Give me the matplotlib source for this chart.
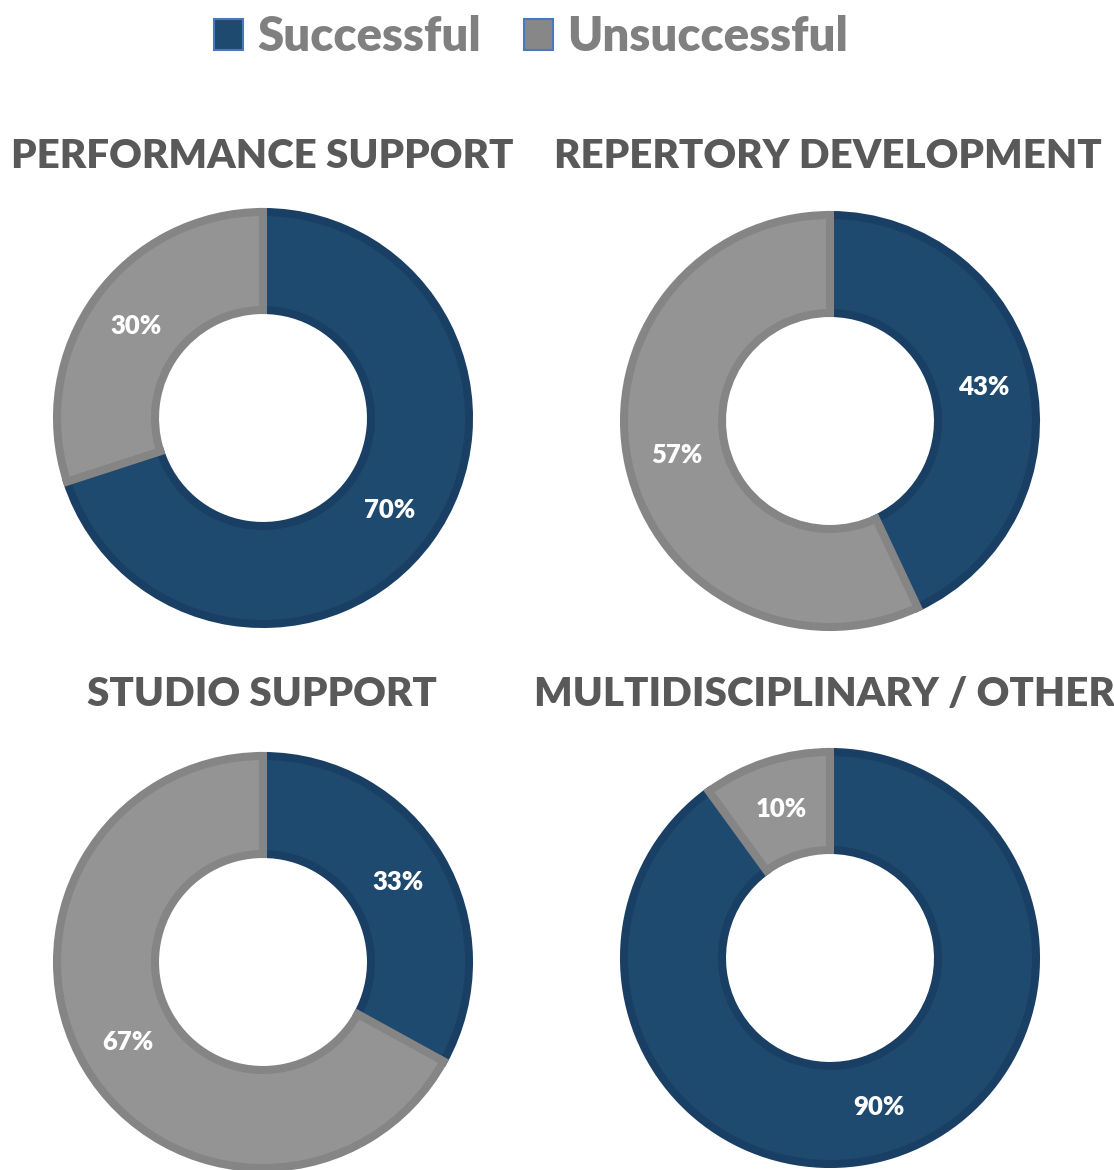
import matplotlib.pyplot as plt
import numpy as np
from matplotlib.patches import Patch

plt.rcParams['font.family'] = ['Lato', 'DejaVu Sans']

titles = ["PERFORMANCE SUPPORT", "REPERTORY DEVELOPMENT",
          "STUDIO SUPPORT", "MULTIDISCIPLINARY / OTHER"]
successful = [70, 43, 33, 90]
unsuccessful = [30, 57, 67, 10]
series_names = ["Successful", "Unsuccessful"]

BLUE, BLUE_EDGE = "#1f4a70", "#1a3f64"
GREY, GREY_EDGE = "#949494", "#858585"

W, H = 1114, 1170
fig = plt.figure(figsize=(W / 100, H / 100), dpi=100)

# pie centres (pixels from top-left) and title positions
centres = [(263, 418), (830, 421), (263, 962), (830, 958)]
title_pos = [(262, 157), (828, 157), (262, 694), (824, 694)]
R = 220  # half-size of each axes box in pixels

for i, (cx, cy) in enumerate(centres):
    ax = fig.add_axes([(cx - R) / W, 1 - (cy + R) / H, 2 * R / W, 2 * R / H])
    wedges, _ = ax.pie([successful[i], unsuccessful[i]], radius=206,
                       startangle=90, counterclock=False,
                       colors=[BLUE, GREY],
                       wedgeprops=dict(width=98, linewidth=5.8,
                                       joinstyle="miter"))
    # pie() resets the limits, so set them afterwards
    ax.set_xlim(-R, R)
    ax.set_ylim(-R, R)
    ax.set_aspect("equal")
    ax.axis("off")
    wedges[0].set_edgecolor(BLUE_EDGE)
    wedges[1].set_edgecolor(GREY_EDGE)
    # labels at the middle of each ring segment
    for w, v in zip(wedges, [successful[i], unsuccessful[i]]):
        ang = np.deg2rad((w.theta1 + w.theta2) / 2)
        rr = 157
        ax.text(rr * np.cos(ang), rr * np.sin(ang), f"{v}%", color="white",
                fontsize=18.5, fontweight="heavy", ha="center", va="center")
    tx, ty = title_pos[i]
    fig.text(tx / W, 1 - ty / H, titles[i], color="#595959", fontsize=29,
             fontweight="heavy", ha="center", va="center")

handles = [Patch(facecolor=BLUE, edgecolor="#4a78c0", linewidth=1.5),
           Patch(facecolor="#878787", edgecolor="#4a78c0", linewidth=1.5)]
fig.legend(handles, series_names, loc="center", bbox_to_anchor=(531 / W, 1 - 37 / H),
           ncol=2, frameon=False, labelcolor="#808080",
           prop=dict(weight="heavy", size=34), handlelength=0.62, handleheight=0.62,
           handletextpad=0.3, columnspacing=0.9)

fig.savefig("out.png", dpi=100)
